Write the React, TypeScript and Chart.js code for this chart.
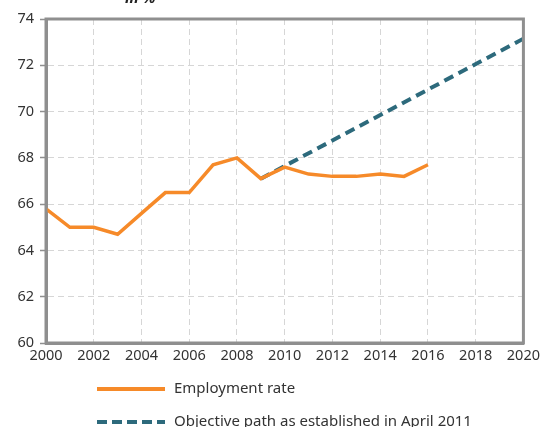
import React, { useEffect, useRef } from "react";
import { Chart, registerables } from "chart.js";

Chart.register(...registerables);

const years = [2000, 2001, 2002, 2003, 2004, 2005, 2006, 2007, 2008, 2009, 2010, 2011, 2012, 2013, 2014, 2015, 2016];
const employmentRate = [65.8, 65.0, 65.0, 64.7, 65.6, 66.5, 66.5, 67.7, 68.0, 67.1, 67.6, 67.3, 67.2, 67.2, 67.3, 67.2, 67.7];
const objectiveYears = [2009, 2020];
const objectivePath = [67.1, 73.15];
const seriesLabels = ["Employment rate", "Objective path as established in April 2011"];
const unitLabel = "in %";

const ORANGE = "#f68a29";
const TEAL = "#2d6a7c";
const FRAME = "#8f8f8f";
const TEXT = "#333333";
const FONT = "'Noto Sans', sans-serif";

const framePlugin = {
  id: "frameAndLegend",
  afterDraw(chart: any) {
    const { ctx, chartArea } = chart;
    ctx.save();
    ctx.strokeStyle = FRAME;
    ctx.lineWidth = 3;
    ctx.setLineDash([]);
    ctx.strokeRect(chartArea.left, chartArea.top, chartArea.right - chartArea.left, chartArea.bottom - chartArea.top);

    // unit label (partly clipped at top)
    ctx.fillStyle = "#222";
    ctx.font = `italic bold 15px ${FONT}`;
    ctx.textAlign = "left";
    ctx.textBaseline = "alphabetic";
    ctx.fillText(unitLabel, 125, 3);

    // legend
    const items = [
      { label: seriesLabels[0], color: ORANGE, dash: [] as number[], y: 389 },
      { label: seriesLabels[1], color: TEAL, dash: [10, 5], y: 422 },
    ];
    ctx.font = `15px ${FONT}`;
    ctx.textBaseline = "middle";
    for (const it of items) {
      ctx.beginPath();
      ctx.strokeStyle = it.color;
      ctx.lineWidth = 4;
      ctx.lineCap = "butt";
      ctx.setLineDash(it.dash);
      ctx.moveTo(97, it.y);
      ctx.lineTo(165, it.y);
      ctx.stroke();
      ctx.setLineDash([]);
      ctx.fillStyle = TEXT;
      ctx.fillText(it.label, 174, it.y);
    }
    ctx.restore();
  },
};

export default function App() {
  const ref = useRef<HTMLCanvasElement>(null);
  useEffect(() => {
    if (!ref.current) return;
    const chart = new Chart(ref.current, {
      type: "line",
      data: {
        datasets: [
          {
            label: seriesLabels[0],
            data: years.map((x, i) => ({ x, y: employmentRate[i] })),
            borderColor: ORANGE,
            borderWidth: 3.5,
            pointRadius: 0,
            tension: 0,
            borderJoinStyle: "miter",
          },
          {
            label: seriesLabels[1],
            data: objectiveYears.map((x, i) => ({ x, y: objectivePath[i] })),
            borderColor: TEAL,
            borderWidth: 4,
            borderDash: [10, 6],
            pointRadius: 0,
            tension: 0,
          },
        ],
      },
      options: {
        animation: false,
        responsive: false,
        maintainAspectRatio: false,
        layout: { padding: { top: 19, right: 20, left: 0, bottom: 0 } },
        plugins: { legend: { display: false }, tooltip: { enabled: false }, title: { display: false } },
        scales: {
          x: {
            type: "linear",
            min: 2000,
            max: 2020,
            ticks: {
              stepSize: 2,
              color: TEXT,
              font: { family: FONT, size: 14.5 },
              padding: 4,
              maxRotation: 0,
              callback: (v: any) => String(v),
            },
            grid: { color: "#d6d6d6", drawTicks: false, lineWidth: 1 },
            border: { display: true, color: FRAME, width: 3, dash: [6, 4] },
            afterFit: (s: any) => { s.height = 84; },
          },
          y: {
            min: 60,
            max: 74,
            ticks: {
              stepSize: 2,
              color: TEXT,
              font: { family: FONT, size: 14.5 },
              padding: 6,
            },
            grid: { color: "#d6d6d6", drawTicks: true, tickLength: 6, tickColor: FRAME, tickWidth: 1.5, lineWidth: 1 },
            border: { display: true, color: FRAME, width: 3, dash: [6, 4] },
            afterFit: (s: any) => { s.width = 46; },
          },
        },
      },
      plugins: [framePlugin],
    } as any);
    return () => chart.destroy();
  }, []);
  return (
    <div style={{ position: "absolute", left: 0, top: 0, width: 544, height: 427, background: "#fff" }}>
      <canvas ref={ref} width={544} height={427} style={{ width: 544, height: 427, display: "block" }} />
    </div>
  );
}
